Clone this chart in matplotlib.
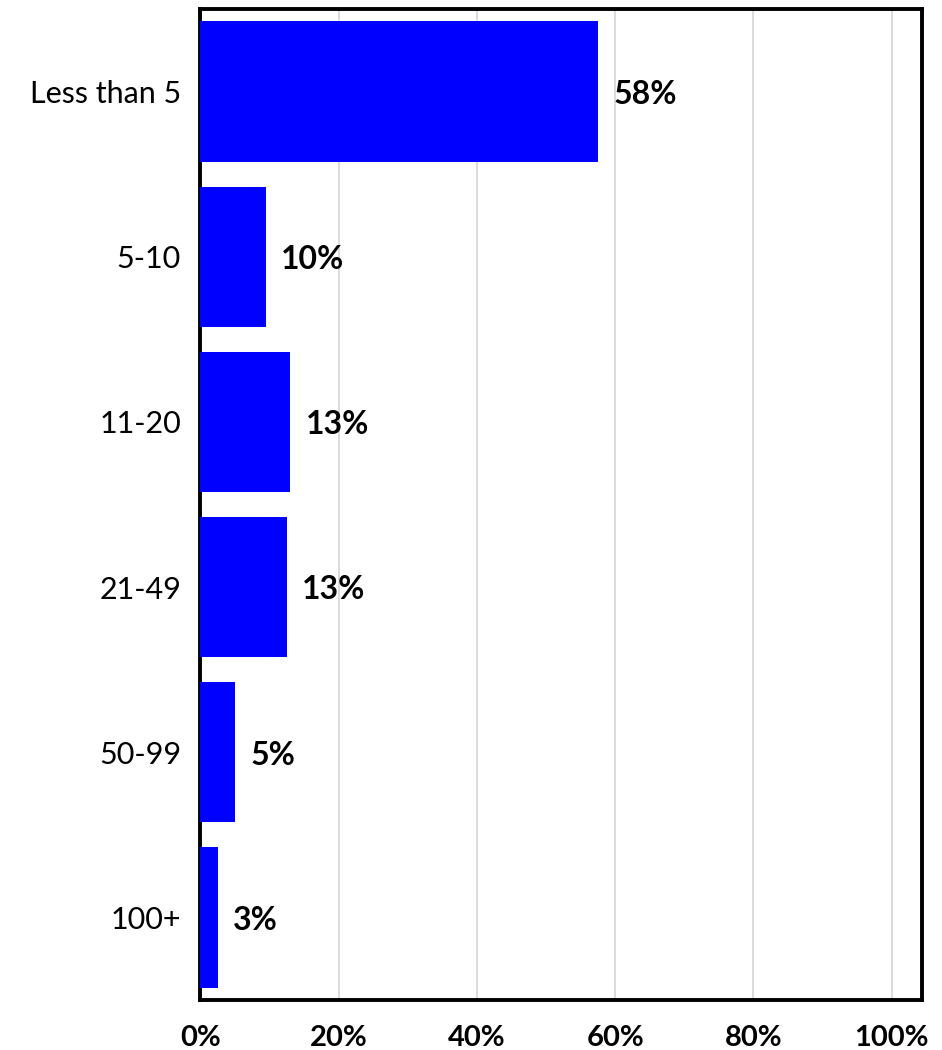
import matplotlib.pyplot as plt
from matplotlib.ticker import FuncFormatter

plt.rcParams['font.family'] = ['Lato', 'DejaVu Sans']

# data
categories = ['Less than 5', '5-10', '11-20', '21-49', '50-99', '100+']
shares = [0.575, 0.095, 0.13, 0.125, 0.05, 0.025]
share_labels = ['58%', '10%', '13%', '13%', '5%', '3%']
x_ticks = [0, 0.2, 0.4, 0.6, 0.8, 1.0]

fig = plt.figure(figsize=(9.42, 10.5), dpi=100)
ax = fig.add_axes([0.2128, 0.0476, 0.766, 0.9438])

pos = list(range(len(categories)))
bars = ax.barh(pos, shares, height=0.85, color='#0000ff', zorder=3)

for b, lab in zip(bars, share_labels):
    ax.annotate(lab, (b.get_width(), b.get_y() + b.get_height() / 2),
                xytext=(11, -2), textcoords='offset points',
                ha='left', va='center', fontsize=23, fontweight='bold')

ax.set_ylim(len(categories) - 0.5, -0.5)
ax.set_xlim(0, 1.044)
ax.set_yticks(pos)
ax.set_yticklabels(categories, fontsize=22)
ax.set_xticks(x_ticks)
ax.xaxis.set_major_formatter(FuncFormatter(lambda v, p: f'{v:.0%}'))
for t in ax.get_xticklabels():
    t.set_fontsize(21)
    t.set_fontweight('bold')
ax.tick_params(length=0, pad=14)
ax.tick_params(axis='x', pad=18)

ax.grid(axis='x', color='#d9d9d9', linewidth=1.3, zorder=0)
for s in ax.spines.values():
    s.set_linewidth(2.8)
    s.set_color('black')

fig.savefig('out.png', dpi=100)
